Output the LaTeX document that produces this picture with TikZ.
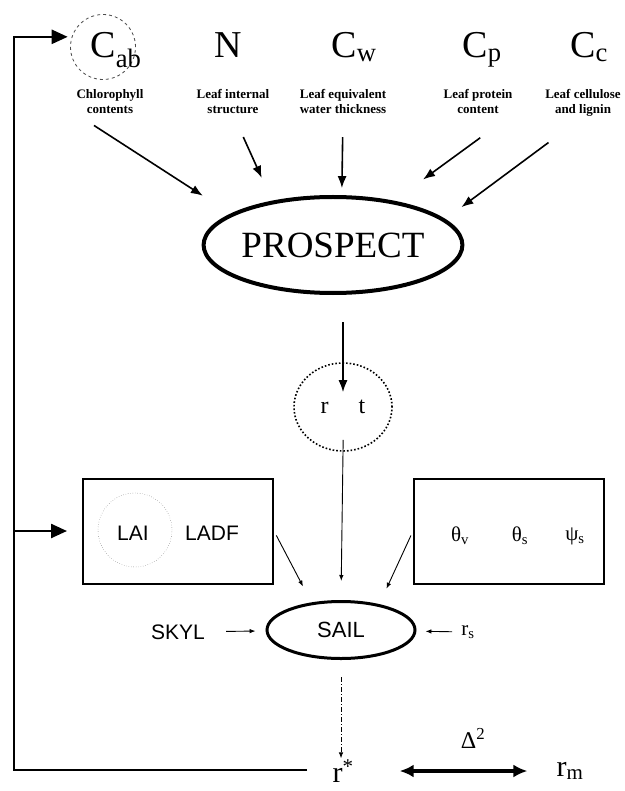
\documentclass[tikz,border=0pt]{standalone}
\usepackage{fontspec}
\setmainfont{Liberation Serif}
\setsansfont{Liberation Sans}
\usetikzlibrary{positioning,arrows.meta,shapes.geometric}

\begin{document}
\begin{tikzpicture}[x=1pt, y=-1pt,
  pin/.style={-{Latex[length=12pt,width=9pt]}, line width=1.6pt},
  fine/.style={-{Latex[length=6pt,width=4.5pt]}, line width=0.9pt},
  feed/.style={line width=2.4pt},
  feedtip/.style={feed, -{Triangle[length=16pt,width=14pt]}},
  model/.style={ellipse, draw, inner sep=0pt},
  panel/.style={draw, line width=2pt, minimum width=190pt, minimum height=105pt},
  ring/.style={circle, draw=black!70, inner sep=0pt},
  sym/.style={font=\fontsize{38}{42}\selectfont, inner sep=1pt, anchor=base},
  note/.style={font=\fontsize{13}{15.5}\selectfont\bfseries, align=center, inner sep=0pt, anchor=north},
  word/.style={font=\sffamily\fontsize{21}{24}\selectfont, inner sep=1pt},
  greek/.style={font=\fontsize{21}{24}\selectfont, inner sep=1pt}]
  \useasboundingbox (0,0) rectangle (624,791);
  % leaf parameters
  \node[ring, dashed, line width=0.8pt, minimum size=65pt] (cabring) at (103,47) {};
  \node[sym] (cab) at (116,58) {C\textsubscript{ab}};
  \node[sym] (n)   at (228,58) {N};
  \node[sym] (cw)  at (354,58) {C\textsubscript{w}};
  \node[sym] (cp)  at (482,58) {C\textsubscript{p}};
  \node[sym] (cc)  at (589,58) {C\textsubscript{c}};
  \node[note] (dcab) at (110,89) {Chlorophyll\\contents};
  \node[note] (dn)   at (233,89) {Leaf internal\\structure};
  \node[note] (dcw)  at (343,89) {Leaf equivalent\\water thickness};
  \node[note] (dcp)  at (478,89) {Leaf protein\\content};
  \node[note] (dcc)  at (583,89) {Leaf cellulose\\and lignin};
  % leaf model
  \node[model, line width=4pt, minimum width=253pt, minimum height=96pt,
        font=\fontsize{37}{40}\selectfont] (prospect) at (333,245) {PROSPECT};
  \node[model, dotted, line width=1.6pt, minimum width=98pt, minimum height=88pt,
        font=\fontsize{24}{26}\selectfont] (rt) at (343,407) {r\hspace{30pt}t};
  % canopy inputs
  \node[panel] (canopy) at (178,531) {};
  \node[ring, dotted, minimum size=74pt] (lairing) at (135,530) {};
  \node[word] (lai)  at (133,533) {LAI};
  \node[word] (ladf) at (212,533) {LADF};
  \node[panel] (view) at (509,531) {};
  \node[greek] (tv) at (460,536) {θ\textsubscript{v}};
  \node[greek] (ts) at (520,536) {θ\textsubscript{s}};
  \node[greek] (ps) at (575,536) {ψ\textsubscript{s}};
  % canopy model
  \node[model, line width=3pt, minimum width=148pt, minimum height=57pt,
        font=\sffamily\fontsize{22}{24}\selectfont] (sail) at (341,630) {SAIL};
  \node[word] (skyl) at (178,632) {SKYL};
  \node[greek] (rs)  at (468,632) {r\textsubscript{s}};
  % reflectances
  \node[greek, font=\fontsize{30}{32}\selectfont] (rstar) at (343,771) {r\textsuperscript{*}};
  \node[greek, font=\fontsize{30}{32}\selectfont] (rm)    at (570,771) {r\textsubscript{m}};
  \node[greek, font=\fontsize{24}{26}\selectfont] (delta) at (473,738) {Δ\textsuperscript{2}};

  \foreach \from/\ang/\pre/\post in {dcab.south west/163/21pt/33pt, dn.south/144/25pt/25pt,
      dcw.south/80/23pt/7pt, dcp.south east/36/40pt/36pt, dcc.south/13/43pt/20pt}
    \draw[pin, shorten <=\pre, shorten >=\post] (\from) -- (prospect.\ang);
  \draw[pin, shorten <=27pt, shorten >=-30pt] (prospect.south -| rt.north) -- (rt.north);
  \draw[fine, shorten <=-12pt, shorten >=19pt] (rt.south) -- (sail.north);
  \draw[fine, shorten <=5pt, shorten >=18pt] (canopy.east) -- (sail.137);
  \draw[fine, shorten <=5pt, shorten >=17pt] (view.west) -- (sail.34);
  \draw[fine, shorten <=20pt, shorten >=10pt] (skyl) -- (sail);
  \draw[fine, shorten <=8pt, shorten >=9pt] (rs) -- (sail);
  \draw[fine, dash pattern=on 5pt off 2pt on 1pt off 2pt, shorten <=17pt]
    (sail.south) -- (sail.south |- rstar.north);
  \draw[{Latex[length=14pt,width=13pt]}-{Latex[length=14pt,width=13pt]}, line width=3.5pt,
    shorten <=45pt, shorten >=28pt] (rstar) -- (rm);

  % feedback loop
  \coordinate (fbend) at (307,770);
  \coordinate (fbcorner) at (14,770);
  \draw[feedtip, shorten >=4pt] (fbend) -- (fbcorner) |- (cabring.162);
  \draw[feedtip, shorten >=15pt] (fbcorner |- canopy.west) -- (canopy.west);
\end{tikzpicture}
\end{document}
